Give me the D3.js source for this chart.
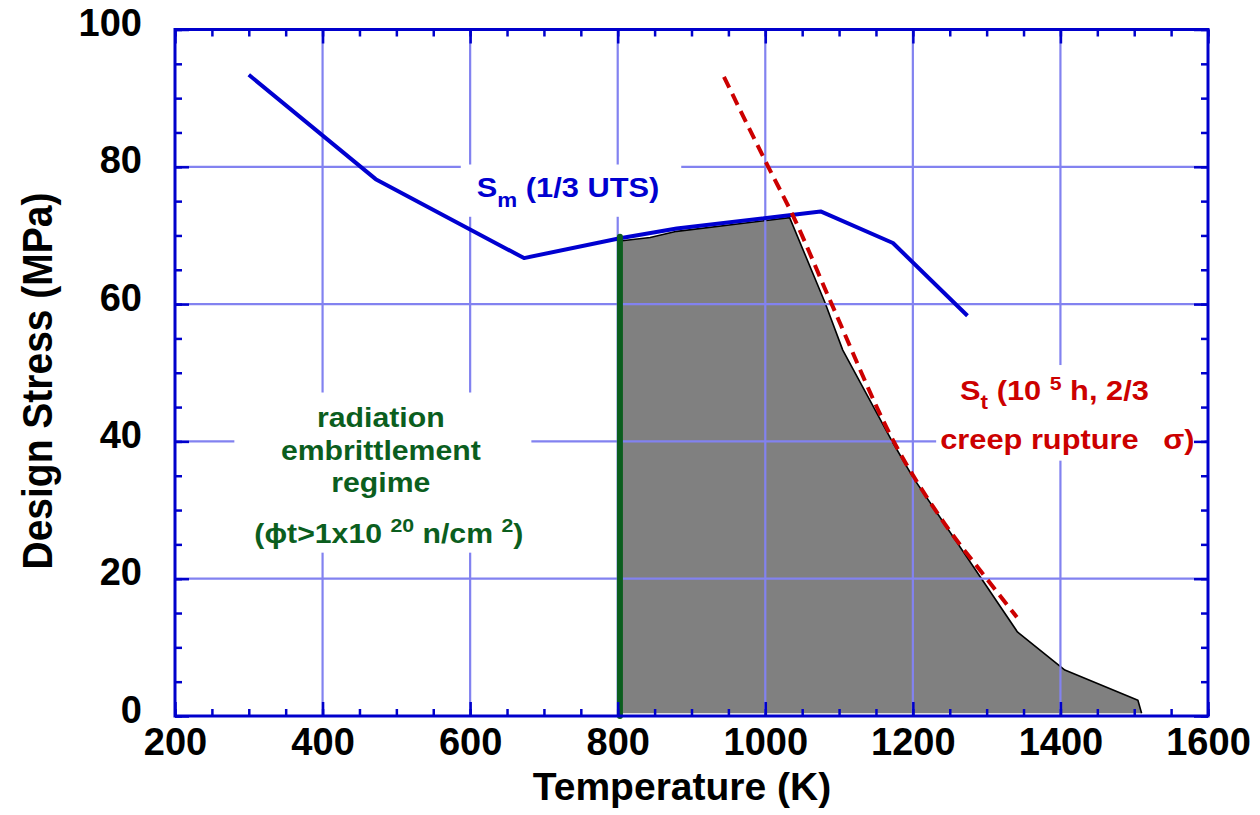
<!DOCTYPE html>
<html>
<head>
<meta charset="utf-8">
<script src="https://cdn.jsdelivr.net/npm/d3@7"></script>
<style>
  body { margin: 0; background: #fff; }
  svg text { font-family: 'Liberation Sans', Arial, sans-serif; font-weight: bold; }
</style>
</head>
<body>
<svg id="chart"></svg>
<script>
// Sm (1/3 UTS) design stress
const smTemp   = [300, 472, 673, 803, 880, 1075, 1173, 1274];
const smStress = [93.4, 78.2, 66.7, 69.6, 71.0, 73.5, 68.9, 58.3];

// St (10^5 h, 2/3 creep rupture stress)
const stTemp   = [944, 1004, 1037, 1090, 1174, 1240, 1300, 1341];
const stStress = [93.1, 80, 73, 60, 40, 28.5, 20, 14.4];

// shaded operating window
const windowTemp   = [803, 803, 844, 880, 1033, 1081, 1105, 1173, 1200, 1342, 1406, 1505, 1510];
const windowStress = [0.4, 69.2, 69.7, 70.6, 72.6, 60.2, 53.3, 39.8, 34.8, 12.2, 6.7, 2.3, 0.4];

// radiation embrittlement limit
const embrittleTemp = 803;
const embrittleTop = 69.8;

const xTicks = [200, 400, 600, 800, 1000, 1200, 1400, 1600];
const yTicks = [0, 20, 40, 60, 80, 100];
const xMinor = d3.range(200, 1601, 50);
const yMinor = d3.range(0, 101, 5);

const W = 1260, H = 815;
const axisBlue = '#0000cc';

const svg = d3.select('#chart').attr('width', W).attr('height', H);

const x = d3.scaleLinear().domain([200, 1600]).range([175, 1208]);
const y = d3.scaleLinear().domain([0, 100]).range([716, 29.5]);

const toPts = (xs, ys) => xs.map((t, i) => [t, ys[i]]);

// shaded region
svg.append('path')
    .datum(toPts(windowTemp, windowStress))
    .attr('d', d3.line().x(d => x(d[0])).y(d => y(d[1])))
    .attr('fill', '#808080')
    .attr('stroke', '#000')
    .attr('stroke-width', 1.6)
    .attr('stroke-linejoin', 'round');

// grid
const grid = svg.append('g').attr('stroke', '#8282f0').attr('stroke-width', 2.2);
grid.selectAll('.gx')
    .data(xTicks.filter(t => t > 200 && t < 1600))
    .join('line')
    .attr('x1', d => x(d)).attr('x2', d => x(d))
    .attr('y1', y(100)).attr('y2', y(0));
grid.selectAll('.gy')
    .data(yTicks.filter(t => t > 0 && t < 100))
    .join('line')
    .attr('y1', d => y(d)).attr('y2', d => y(d))
    .attr('x1', x(200)).attr('x2', x(1600));

// labels (with white boxes behind)
const labels = svg.append('g');

function addLabel(px, py, anchor, parts, color, size) {
  const t = labels.append('text')
      .attr('transform', `translate(${px},${py}) scale(1.12,1)`)
      .attr('text-anchor', anchor)
      .attr('fill', color)
      .style('font-size', size + 'px');
  parts.forEach(p => {
    const s = t.append('tspan').text(p.t).style('font-size', (p.s || size) + 'px');
    if (p.dy) s.attr('dy', p.dy);
    if (p.dx) s.attr('dx', p.dx);
  });
  return t;
}

function boxBehind(nodes, pad) {
  let x0 = 1e9, y0 = 1e9, x1 = -1e9, y1 = -1e9;
  nodes.forEach(n => {
    const b = n.node().getBoundingClientRect();
    x0 = Math.min(x0, b.left); y0 = Math.min(y0, b.top);
    x1 = Math.max(x1, b.right); y1 = Math.max(y1, b.bottom);
  });
  labels.insert('rect', ':first-child')
      .attr('x', x0 - pad[3]).attr('y', y0 - pad[0])
      .attr('width', x1 - x0 + pad[1] + pad[3])
      .attr('height', y1 - y0 + pad[0] + pad[2])
      .attr('fill', '#fff');
}

const blue = '#0000d0', red = '#cc0000', green = '#0b5e1e';

const smLab = addLabel(x(609), y(75.6), 'start',
  [{t: 'S'}, {t: 'm', s: 20, dy: 10}, {t: ' (1/3 UTS)', dy: -10}], blue, 27.5);
boxBehind([smLab], [8, 22, 6, 16]);

const gx = x(479);
const g1 = addLabel(gx, 427, 'middle', [{t: 'radiation'}], green, 27);
const g2 = addLabel(gx, 460, 'middle', [{t: 'embrittlement'}], green, 27);
const g3 = addLabel(gx, 492, 'middle', [{t: 'regime'}], green, 27);
const g4 = addLabel(gx + 8, 543, 'middle',
  [{t: '(ϕt>1x10 '}, {t: '20', s: 19, dy: -11}, {t: ' n/cm ', dy: 11},
   {t: '2', s: 19, dy: -11}, {t: ')', dy: 11}], green, 27);
boxBehind([g1, g2, g3, g4], [10, 8, 4, 20]);

const r1 = addLabel(x(1264), 400, 'start',
  [{t: 'S'}, {t: 't', s: 20, dy: 9}, {t: ' (10 ', dy: -9},
   {t: '5', s: 19, dy: -10}, {t: ' h, 2/3', dy: 10}], red, 27.5);
const r2 = addLabel(x(1237), 449, 'start',
  [{t: 'creep rupture'}, {t: 'σ)', dx: 22}], red, 27.5);
boxBehind([r1, r2], [8, 10, 6, 4]);

// curves
svg.append('path')
    .datum(toPts(smTemp, smStress))
    .attr('d', d3.line().x(d => x(d[0])).y(d => y(d[1])))
    .attr('fill', 'none')
    .attr('stroke', blue)
    .attr('stroke-width', 4)
    .attr('stroke-linejoin', 'round');

svg.append('path')
    .datum(toPts(stTemp, stStress))
    .attr('d', d3.line().curve(d3.curveMonotoneX).x(d => x(d[0])).y(d => y(d[1])))
    .attr('fill', 'none')
    .attr('stroke', red)
    .attr('stroke-width', 4)
    .attr('stroke-dasharray', '12,7');

svg.append('line')
    .attr('x1', x(embrittleTemp)).attr('x2', x(embrittleTemp))
    .attr('y1', y(0)).attr('y2', y(embrittleTop))
    .attr('stroke', green)
    .attr('stroke-width', 6)
    .attr('stroke-linecap', 'round');

// axes: inward ticks on all four sides
function styleAxis(g) {
  g.select('.domain').remove();
  g.selectAll('.tick line').attr('stroke', axisBlue).attr('stroke-width', 2.5);
  g.selectAll('.tick text')
      .attr('fill', '#000')
      .style('font-size', '38px')
      .style('font-family', "'Liberation Sans', Arial, sans-serif")
      .style('font-weight', 'bold');
}

svg.append('g').attr('transform', `translate(0,${y(0)})`)
    .call(d3.axisBottom(x).tickValues(xMinor).tickSize(-7).tickFormat(''))
    .call(styleAxis);
svg.append('g').attr('transform', `translate(0,${y(0)})`)
    .call(d3.axisBottom(x).tickValues(xTicks).tickSize(-14).tickPadding(12).tickFormat(d3.format('d')))
    .call(styleAxis);
svg.append('g').attr('transform', `translate(0,${y(100)})`)
    .call(d3.axisTop(x).tickValues(xMinor).tickSize(-7).tickFormat(''))
    .call(styleAxis);
svg.append('g').attr('transform', `translate(0,${y(100)})`)
    .call(d3.axisTop(x).tickValues(xTicks).tickSize(-14).tickFormat(''))
    .call(styleAxis);

svg.append('g').attr('transform', `translate(${x(200)},0)`)
    .call(d3.axisLeft(y).tickValues(yMinor).tickSize(-7).tickFormat(''))
    .call(styleAxis);
svg.append('g').attr('transform', `translate(${x(200)},0)`)
    .call(d3.axisLeft(y).tickValues(yTicks).tickSize(-14).tickPadding(33).tickFormat(d3.format('d')))
    .call(styleAxis)
    .call(g => g.selectAll('.tick text').attr('dy', '0.16em'));
svg.append('g').attr('transform', `translate(${x(1600)},0)`)
    .call(d3.axisRight(y).tickValues(yMinor).tickSize(-7).tickFormat(''))
    .call(styleAxis);
svg.append('g').attr('transform', `translate(${x(1600)},0)`)
    .call(d3.axisRight(y).tickValues(yTicks).tickSize(-14).tickFormat(''))
    .call(styleAxis);

// frame
svg.append('rect')
    .attr('x', x(200)).attr('y', y(100))
    .attr('width', x(1600) - x(200)).attr('height', y(0) - y(100))
    .attr('fill', 'none')
    .attr('stroke', axisBlue)
    .attr('stroke-width', 3);

// axis titles
svg.append('text')
    .attr('x', 682).attr('y', 800)
    .attr('text-anchor', 'middle')
    .style('font-size', '39px')
    .text('Temperature (K)');

svg.append('text')
    .attr('transform', `translate(52,381) scale(1.08,1) rotate(-90)`)
    .attr('text-anchor', 'middle')
    .style('font-size', '39px')
    .text('Design Stress (MPa)');
</script>
</body>
</html>
